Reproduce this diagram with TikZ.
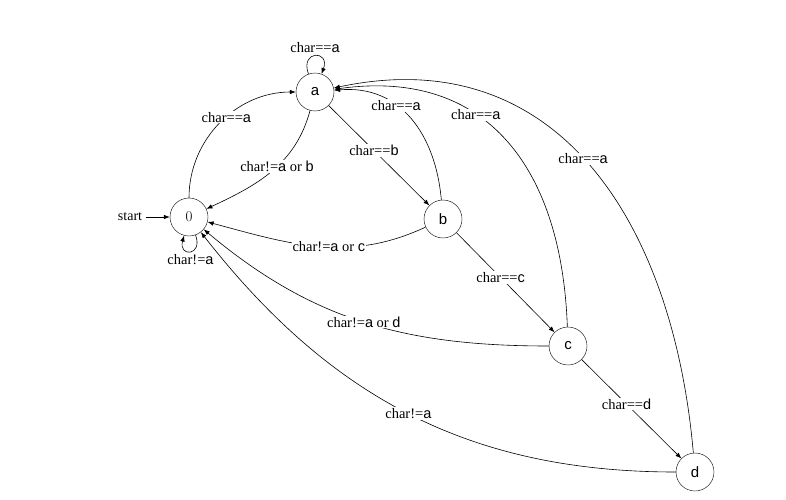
\documentclass[tikz,border=0pt]{standalone}
\usepackage{fontspec}
\setmainfont{Liberation Serif}
\newfontfamily\lsans{Liberation Sans}
\newfontfamily\lmr{Latin Modern Roman}
\usetikzlibrary{arrows.meta}
\newcommand{\sa}[1]{{\lsans #1}}
\begin{document}
\begin{tikzpicture}[x=1pt,y=1pt,
  st/.style={circle,draw,minimum size=38pt,inner sep=0pt,font=\fontsize{15}{17}\selectfont},
  lb/.style={fill=white,inner sep=1pt,font=\fontsize{14.5}{16}\selectfont},
  tr/.style={-{Latex[length=6pt,width=4.5pt]},semithick}]
\useasboundingbox (0,0) rectangle (786,499);
\node[st] (s0) at (189,282) {\lmr 0};
\node[st] (a) at (315,407) {\sa{a}};
\node[st] (b) at (443,280) {\sa{b}};
\node[st] (c) at (568,153) {\sa{c}};
\node[st] (d) at (695,27) {\sa{d}};
\node[font=\fontsize{14}{16}\selectfont] (start) at (130,282) {start};
\draw[tr] (start) -- (s0);
\draw[tr] (s0) to[out=-70,in=-105,looseness=5] node[lb,below,pos=0.5,yshift=-2pt] {char!=\sa{a}} (s0);
\draw[tr] (a) to[out=110,in=70,looseness=5] node[lb,above,pos=0.5,yshift=2pt] {char==\sa{a}} (a);
\draw[tr] (s0) to[out=90,in=180] node[lb,pos=0.55] {char==\sa{a}} (a);
\draw[tr] (a) to[out=-105,in=25] node[lb,pos=0.45] {char!=\sa{a} or \sa{b}} (s0);
\draw[tr] (a) -- node[lb,pos=0.45] {char==\sa{b}} (b);
\draw[tr] (b) to[out=95,in=5,looseness=1.1] node[lb,pos=0.62] {char==\sa{a}} (a);
\draw[tr] (b) to[out=-155,in=-15] node[lb,pos=0.45] {char!=\sa{a} or \sa{c}} (s0);
\draw[tr] (b) -- node[lb,pos=0.45] {char==\sa{c}} (c);
\draw[tr] (c) to[out=92,in=8,looseness=1.2] node[lb,pos=0.62] {char==\sa{a}} (a);
\draw[tr] (c) to[out=180,in=-40] node[lb,pos=0.5] {char!=\sa{a} or \sa{d}} (s0);
\draw[tr] (c) -- node[lb,pos=0.45] {char==\sa{d}} (d);
\draw[tr] (d) to[out=95,in=12,looseness=1.15] node[lb,pos=0.52] {char==\sa{a}} (a);
\draw[tr] (d) to[out=180,in=-52] node[lb,pos=0.5] {char!=\sa{a}} (s0);
\end{tikzpicture}
\end{document}
